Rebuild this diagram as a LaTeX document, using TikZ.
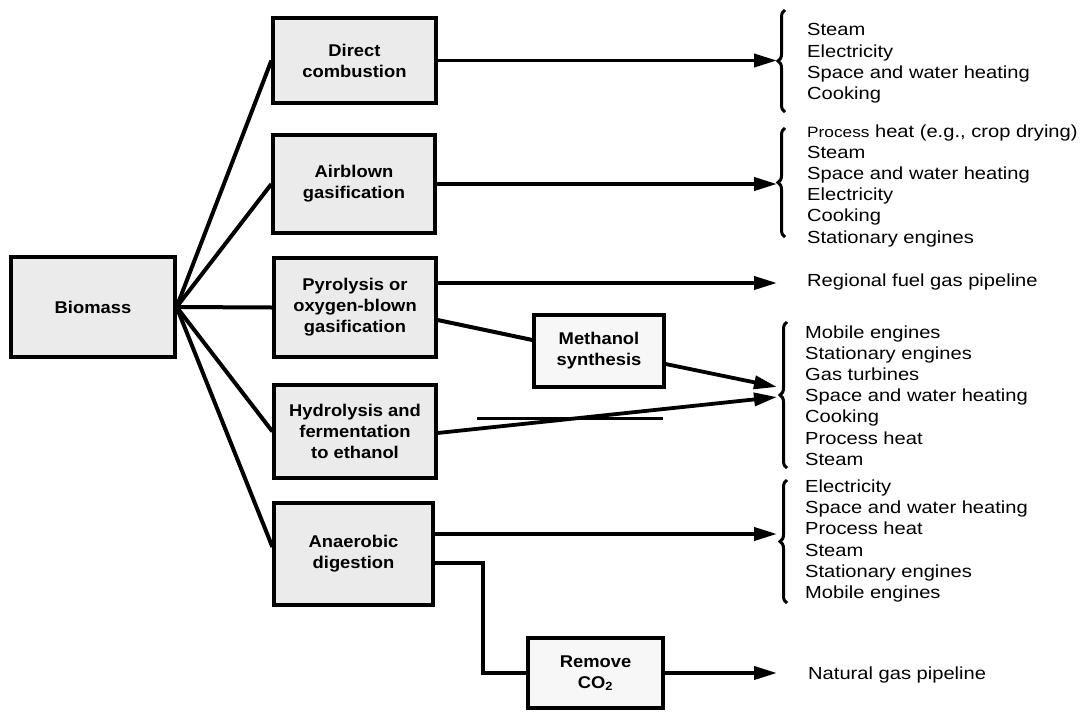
\documentclass[tikz,border=0pt]{standalone}
\usepackage{fontspec}
\setmainfont{Liberation Sans}[FakeStretch=1.15]
\newfontfamily\lblfont{Liberation Sans}[FakeStretch=1.08]
\usetikzlibrary{arrows.meta,decorations.pathreplacing,calc}
\tikzset{
 proc/.style={draw=black, line width=3.2pt, fill=black!8, align=center, font=\lblfont\bfseries\fontsize{17}{21}\selectfont, inner sep=0pt},
 wproc/.style={proc, fill=black!3},
 conn/.style={line width=4pt},
 arr/.style={line width=3.8pt, -{Triangle[length=23pt,width=13pt]}},
 brc/.style={decorate, decoration={brace, amplitude=7pt}, line width=3pt},
 outs/.style={anchor=west, align=left, font=\fontsize{17.5}{21.2}\selectfont, inner sep=0pt},
}
\begin{document}
\begin{tikzpicture}[x=1pt,y=-1pt]
\useasboundingbox (0,0) rectangle (1092,713);
% boxes
\node[proc, minimum width=164pt, minimum height=100pt] (bio) at (93,307) {Biomass};
\node[proc, minimum width=163pt, minimum height=85pt] (dc) at (354.5,60.5) {Direct\\combustion};
\node[proc, minimum width=162pt, minimum height=98pt] (ab) at (354,184) {Airblown\\gasification};
\node[proc, minimum width=162pt, minimum height=99pt] (py) at (355,307.5) {Pyrolysis or\\oxygen-blown\\gasification};
\node[proc, minimum width=162pt, minimum height=93pt] (hy) at (355,431.5) {Hydrolysis and\\fermentation\\to ethanol};
\node[proc, minimum width=159pt, minimum height=102pt] (an) at (353.5,554) {Anaerobic\\digestion};
\node[wproc, minimum width=130pt, minimum height=72pt] (me) at (599,351) {Methanol\\synthesis};
\node[wproc, minimum width=135pt, minimum height=70pt] (rc) at (595.5,673) {Remove\\CO\textsubscript{2}};
% brace tips
\coordinate (e1) at (777,60.5);
\coordinate (e2) at (777,184);
\coordinate (e3) at (777,283);
\coordinate (e4a) at (777,387);
\coordinate (e4b) at (777,397);
\coordinate (e5) at (777,534);
\coordinate (e6) at (777,673);
% braces
\draw[brc] (785,112) -- (785,10);
\draw[brc] (785,237) -- (785,128);
\draw[brc] (787,468) -- (787,322);
\draw[brc] (787,603) -- (787,480);
% connectors from biomass
\draw[conn] (bio.east) -- (dc.west);
\draw[conn] (bio.east) -- (ab.west);
\draw[conn] (bio.east) -- (py.west);
\draw[conn] (bio.east) -- (hy.west);
\draw[conn] (bio.east) -- ($(an.west)+(0,-7)$);
% outputs
\draw[arr] (dc.east) -- (e1);
\draw[arr] (ab.east) -- (e2);
\draw[arr] (py.east |- e3) -- (e3);
\draw[conn] ($(py.east)+(0,12.5)$) -- ($(me.west)+(0,-11)$);
\draw[arr] ($(me.east)+(0,13)$) -- (e4a);
\draw[arr] ($(hy.east)+(0,1.5)$) -- (e4b);
\draw[line width=3pt] (477,418) -- (663,418);
\draw[arr] ($(an.east)+(0,-20)$) -- (e5);
\draw[conn] ($(an.east)+(0,9)$) -- (483,563) |- (rc.west);
\draw[arr] (rc.east) -- (e6);
% texts
\node[outs] (o1) at (807,63.5) {Steam\\Electricity\\Space and water heating\\Cooking};
\node[outs] (o2) at (807,185.5) {{\fontsize{15}{21.2}\selectfont Process} heat (e.g., crop drying)\\Steam\\Space and water heating\\Electricity\\Cooking\\Stationary engines};
\node[outs] (o3) at (807,282) {Regional fuel gas pipeline};
\node[outs] (o4) at (805,395.5) {Mobile engines\\Stationary engines\\Gas turbines\\Space and water heating\\Cooking\\Process heat\\Steam};
\node[outs] (o5) at (805,541) {Electricity\\Space and water heating\\Process heat\\Steam\\Stationary engines\\Mobile engines};
\node[outs] (o6) at (808,675) {Natural gas pipeline};
\end{tikzpicture}
\end{document}
